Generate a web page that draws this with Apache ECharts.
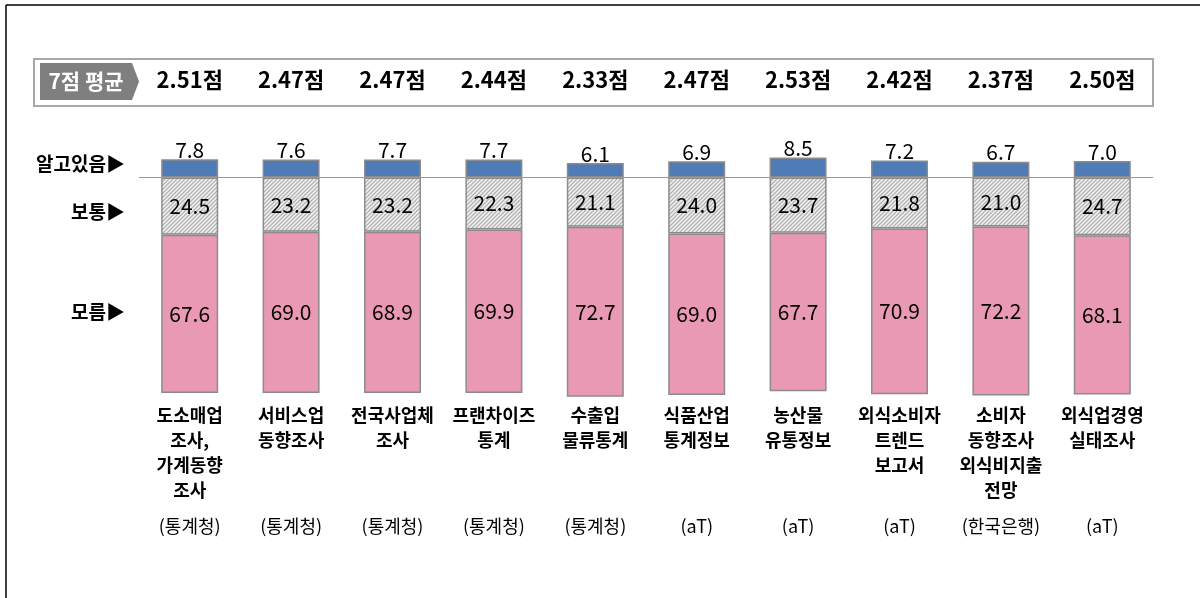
<!DOCTYPE html>
<html>
<head>
<meta charset="utf-8">
<script src="https://cdn.jsdelivr.net/npm/echarts@6/dist/echarts.min.js"></script>
<style>
  html, body { margin: 0; padding: 0; background: #fff; }
  #chart { width: 1200px; height: 598px; }
</style>
</head>
<body>
<div id="chart"></div>
<script>
// categories (survey names) and their producing agencies
var categories = [
  "도소매업\n조사,\n가계동향\n조사",
  "서비스업\n동향조사",
  "전국사업체\n조사",
  "프랜차이즈\n통계",
  "수출입\n물류통계",
  "식품산업\n통계정보",
  "농산물\n유통정보",
  "외식소비자\n트렌드\n보고서",
  "소비자\n동향조사\n외식비지출\n전망",
  "외식업경영\n실태조사"
];
var sources = ["(통계청)", "(통계청)", "(통계청)", "(통계청)", "(통계청)", "(aT)", "(aT)", "(aT)", "(한국은행)", "(aT)"];

// 7점 평균
var avgScores = [2.51, 2.47, 2.47, 2.44, 2.33, 2.47, 2.53, 2.42, 2.37, 2.50];

// shares (%)
var know = [7.8, 7.6, 7.7, 7.7, 6.1, 6.9, 8.5, 7.2, 6.7, 7.0];
var normal = [24.5, 23.2, 23.2, 22.3, 21.1, 24.0, 23.7, 21.8, 21.0, 24.7];
var unknown = [67.6, 69.0, 68.9, 69.9, 72.7, 69.0, 67.7, 70.9, 72.2, 68.1];

var FONT = "Noto Sans CJK KR";

function hatchPattern() {
  var c = document.createElement("canvas");
  c.width = 4;
  c.height = 4;
  var ctx = c.getContext("2d");
  ctx.fillStyle = "#f3f3f3";
  ctx.fillRect(0, 0, 4, 4);
  ctx.strokeStyle = "#b2b2b2";
  ctx.lineWidth = 1.3;
  ctx.beginPath();
  ctx.moveTo(0, 4); ctx.lineTo(4, 0);
  ctx.moveTo(-1, 1); ctx.lineTo(1, -1);
  ctx.moveTo(3, 5); ctx.lineTo(5, 3);
  ctx.stroke();
  return c;
}

var chart = echarts.init(document.getElementById("chart"));

var absLabel = function (p) {
  return Math.abs(p.value).toFixed(1);
};

var option = {
  animation: false,
  backgroundColor: "#fff",
  grid: { left: 139, right: 47, top: 154, height: 248 },
  xAxis: [
    {
      type: "category",
      data: categories,
      position: "bottom",
      axisLine: { show: false, onZero: false },
      axisTick: { show: false },
      axisLabel: {
        interval: 0,
        margin: 1,
        lineHeight: 25,
        fontSize: 18,
        fontWeight: "bold",
        fontFamily: FONT,
        color: "#000"
      }
    },
    {
      type: "category",
      data: sources,
      position: "bottom",
      offset: 112,
      axisLine: { show: false, onZero: false },
      axisTick: { show: false },
      axisLabel: {
        interval: 0,
        margin: 0,
        lineHeight: 25,
        fontSize: 18,
        fontFamily: FONT,
        color: "#000"
      }
    },
    {
      type: "category",
      data: avgScores.map(function (v) { return v.toFixed(2) + "점"; }),
      position: "top",
      offset: 61,
      axisLine: { show: false, onZero: false },
      axisTick: { show: false },
      axisLabel: {
        interval: 0,
        margin: 0,
        lineHeight: 26,
        fontSize: 22,
        fontWeight: "bold",
        fontFamily: FONT,
        color: "#000"
      }
    }
  ],
  yAxis: {
    type: "value",
    min: -96,
    max: 10,
    show: false
  },
  series: [
    {
      name: "알고있음",
      type: "bar",
      stack: "a",
      barWidth: 57,
      data: know,
      itemStyle: { color: "#4f7bb6", borderColor: "#8c8c8c", borderWidth: 1.5 },
      label: {
        show: true,
        position: "top",
        distance: -1,
        fontSize: 21,
        fontFamily: FONT,
        color: "#000",
        formatter: absLabel
      },
      markLine: {
        silent: true,
        symbol: "none",
        label: { show: false },
        lineStyle: { color: "#999", width: 1, type: "solid" },
        data: [{ yAxis: 0 }]
      },
      z: 3
    },
    {
      name: "보통",
      type: "bar",
      stack: "a",
      barWidth: 57,
      data: normal.map(function (v) { return -v; }),
      itemStyle: {
        color: { image: hatchPattern(), repeat: "repeat" },
        borderColor: "#8c8c8c",
        borderWidth: 1.5
      },
      label: {
        show: true,
        position: "inside",
        fontSize: 21,
        fontFamily: FONT,
        color: "#000",
        formatter: absLabel
      }
    },
    {
      name: "모름",
      type: "bar",
      stack: "a",
      barWidth: 57,
      data: unknown.map(function (v) { return -v; }),
      itemStyle: { color: "#e999b3", borderColor: "#8c8c8c", borderWidth: 1.5 },
      label: {
        show: true,
        position: "inside",
        fontSize: 21,
        fontFamily: FONT,
        color: "#000",
        formatter: absLabel
      }
    }
  ],
  graphic: [
    // frame
    { type: "line", shape: { x1: 6, y1: 5, x2: 1200, y2: 5 }, style: { stroke: "#000", lineWidth: 1.5 } },
    { type: "line", shape: { x1: 6, y1: 5, x2: 6, y2: 598 }, style: { stroke: "#000", lineWidth: 1.5 } },
    // average box
    { type: "rect", shape: { x: 34, y: 59, width: 1119, height: 47 }, style: { fill: "none", stroke: "#a8a8a8", lineWidth: 2 } },
    {
      type: "polygon",
      shape: { points: [[40, 63], [132, 63], [139, 81.5], [132, 100], [40, 100]] },
      style: { fill: "#7f7f7f" }
    },
    {
      type: "text",
      x: 86, y: 81.5,
      style: { text: "7점 평균", fill: "#fff", font: "bold 21px '" + FONT + "'", align: "center", verticalAlign: "middle" }
    },
    // row labels
    {
      type: "text", x: 125, y: 164,
      style: { text: "알고있음▶", fill: "#000", font: "bold 19px '" + FONT + "'", align: "right", verticalAlign: "middle" }
    },
    {
      type: "text", x: 125, y: 212,
      style: { text: "보통▶", fill: "#000", font: "bold 19px '" + FONT + "'", align: "right", verticalAlign: "middle" }
    },
    {
      type: "text", x: 125, y: 312,
      style: { text: "모름▶", fill: "#000", font: "bold 19px '" + FONT + "'", align: "right", verticalAlign: "middle" }
    }
  ]
};

chart.setOption(option);
</script>
</body>
</html>
